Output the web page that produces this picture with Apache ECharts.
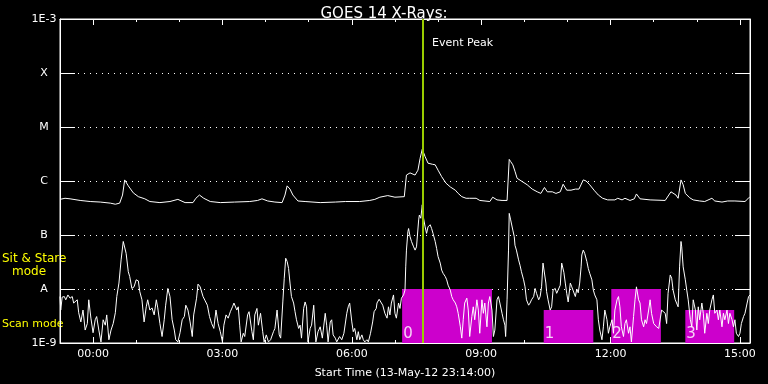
<!DOCTYPE html>
<html><head><meta charset="utf-8">
<script src="https://cdn.jsdelivr.net/npm/echarts@6/dist/echarts.min.js"></script>
<style>html,body{margin:0;padding:0;background:#000}#c{width:768px;height:384px}</style>
</head><body><div id="c"></div>
<script>
// x values: minutes relative to 00:00 on 14-May-12 (start 23:14 on 13-May = -46)
const xMin = -46, xMax = 914;
const titleText = 'GOES 14 X-Rays:';
const xName = 'Start Time (13-May-12 23:14:00)';
const labelMinutes = [0, 180, 360, 540, 720, 900];
const hourMinutes = [0,60,120,180,240,300,360,420,480,540,600,660,720,780,840,900];
// y values: log10 of flux (W/m^2)
const levelValues = [-9, -8, -7, -6, -5, -4, -3];
const levelLabels = ['1E-9', 'A', 'B', 'C', 'M', 'X', '1E-3'];
const eventPeakMinute = 458;
// Long channel (1-8 A), [minute, log10 flux]
const longChannel = [[-46,-6.34],[-39,-6.32],[-32,-6.33],[-18,-6.36],[-4,-6.38],[10,-6.39],[24,-6.41],[31,-6.43],[37,-6.41],[41,-6.26],[44,-5.98],[49,-6.09],[56,-6.22],[63,-6.29],[72,-6.33],[79,-6.38],[93,-6.40],[107,-6.38],[118,-6.34],[128,-6.40],[139,-6.40],[143,-6.32],[148,-6.26],[154,-6.32],[163,-6.38],[177,-6.40],[197,-6.39],[218,-6.38],[229,-6.36],[235,-6.33],[243,-6.37],[253,-6.39],[263,-6.40],[267,-6.26],[270,-6.09],[274,-6.15],[278,-6.26],[285,-6.37],[295,-6.38],[316,-6.40],[337,-6.39],[351,-6.38],[371,-6.38],[385,-6.36],[392,-6.34],[399,-6.30],[410,-6.27],[420,-6.30],[433,-6.29],[436,-5.89],[441,-5.85],[448,-5.89],[452,-5.80],[455,-5.58],[458,-5.41],[462,-5.55],[466,-5.67],[472,-5.69],[476,-5.70],[480,-5.80],[485,-5.92],[491,-6.04],[497,-6.11],[504,-6.17],[508,-6.23],[513,-6.29],[519,-6.32],[524,-6.32],[533,-6.32],[538,-6.36],[552,-6.38],[556,-6.30],[562,-6.35],[569,-6.36],[576,-6.36],[579,-5.60],[581,-5.64],[584,-5.70],[587,-5.82],[590,-5.95],[597,-6.01],[604,-6.07],[611,-6.15],[618,-6.20],[623,-6.23],[628,-6.12],[632,-6.20],[639,-6.20],[644,-6.23],[650,-6.20],[654,-6.06],[659,-6.17],[665,-6.17],[671,-6.15],[676,-6.15],[682,-5.98],[686,-6.00],[691,-6.07],[697,-6.17],[703,-6.26],[709,-6.32],[716,-6.35],[726,-6.35],[730,-6.32],[736,-6.35],[740,-6.32],[747,-6.36],[753,-6.33],[756,-6.24],[761,-6.33],[775,-6.35],[796,-6.36],[804,-6.20],[811,-6.26],[814,-6.32],[818,-5.98],[821,-6.07],[824,-6.23],[830,-6.31],[835,-6.35],[844,-6.37],[851,-6.38],[861,-6.32],[865,-6.37],[875,-6.39],[883,-6.37],[893,-6.37],[907,-6.38],[911,-6.33],[914,-6.29]];
// Short channel (0.5-4 A), [minute, log10 flux]
const shortChannel = [[-46,-8.14],[-45,-8.39],[-43,-8.15],[-40,-8.14],[-38,-8.20],[-35,-8.11],[-32,-8.17],[-29,-8.14],[-27,-8.26],[-22,-8.20],[-20,-8.44],[-17,-8.61],[-14,-8.39],[-11,-8.76],[-8,-8.64],[-6,-8.20],[-3,-8.54],[0,-8.81],[3,-8.57],[5,-8.51],[8,-8.76],[11,-8.98],[14,-8.57],[17,-8.67],[19,-8.48],[22,-8.94],[25,-8.76],[28,-8.64],[31,-8.44],[33,-8.14],[36,-7.89],[39,-7.46],[42,-7.12],[44,-7.09],[46,-7.34],[49,-7.68],[51,-7.77],[54,-7.99],[57,-7.96],[60,-7.83],[63,-7.85],[65,-8.05],[68,-8.20],[71,-8.61],[74,-8.33],[76,-8.20],[79,-8.39],[82,-8.35],[85,-8.48],[88,-8.20],[90,-8.35],[93,-8.64],[96,-8.88],[99,-8.57],[101,-8.30],[104,-7.99],[107,-8.14],[110,-8.57],[113,-8.76],[115,-8.94],[118,-8.98],[121,-8.81],[124,-8.57],[127,-8.51],[129,-8.30],[132,-8.39],[135,-8.61],[138,-8.88],[140,-8.48],[144,-8.17],[146,-7.91],[149,-7.96],[153,-8.14],[156,-8.22],[159,-8.30],[162,-8.51],[165,-8.64],[168,-8.73],[171,-8.39],[174,-8.64],[177,-8.79],[180,-8.98],[182,-8.67],[185,-8.48],[188,-8.54],[191,-8.42],[194,-8.33],[196,-8.26],[200,-8.39],[202,-8.33],[204,-8.67],[206,-8.98],[209,-8.82],[211,-8.88],[215,-8.48],[217,-8.42],[221,-8.79],[223,-8.94],[225,-8.48],[228,-8.36],[230,-8.67],[233,-8.45],[236,-8.79],[238,-8.98],[241,-8.85],[244,-8.98],[247,-8.94],[251,-8.79],[253,-8.73],[256,-8.39],[259,-8.85],[261,-8.91],[264,-8.24],[266,-7.80],[268,-7.43],[270,-7.49],[272,-7.62],[274,-7.89],[276,-8.14],[279,-8.26],[281,-8.42],[283,-8.57],[286,-8.73],[288,-8.67],[290,-8.91],[293,-8.36],[295,-8.24],[297,-8.33],[299,-8.98],[302,-8.73],[304,-8.67],[307,-8.30],[310,-8.98],[313,-8.79],[316,-8.70],[319,-8.91],[323,-8.45],[325,-8.67],[327,-8.98],[330,-8.61],[332,-8.57],[334,-8.85],[337,-8.91],[339,-8.98],[343,-8.88],[346,-8.94],[349,-8.82],[353,-8.45],[355,-8.33],[357,-8.26],[360,-8.61],[362,-8.79],[364,-8.73],[367,-8.94],[369,-8.79],[371,-8.94],[374,-8.85],[376,-8.94],[378,-8.98],[381,-8.94],[383,-8.98],[386,-8.82],[389,-8.61],[391,-8.42],[394,-8.36],[395,-8.26],[398,-8.19],[400,-8.22],[403,-8.30],[406,-8.45],[409,-8.54],[411,-8.33],[413,-8.48],[415,-8.26],[418,-8.11],[420,-8.45],[422,-8.54],[425,-8.26],[427,-8.36],[429,-8.17],[432,-8.11],[434,-8.02],[435,-7.59],[436,-7.28],[438,-6.94],[439,-6.88],[441,-7.03],[443,-7.12],[446,-7.22],[448,-7.28],[450,-7.22],[453,-6.72],[454,-6.63],[456,-6.69],[458,-6.44],[459,-6.63],[462,-6.85],[464,-6.97],[466,-6.85],[469,-6.81],[471,-6.88],[473,-6.97],[476,-7.12],[478,-7.25],[480,-7.40],[483,-7.52],[485,-7.65],[487,-7.71],[490,-7.77],[492,-7.83],[494,-7.93],[497,-8.02],[499,-8.14],[501,-8.20],[504,-8.26],[506,-8.33],[508,-8.45],[511,-8.70],[513,-8.91],[515,-8.57],[517,-8.26],[520,-8.17],[522,-8.39],[524,-8.88],[527,-8.51],[529,-8.33],[531,-8.57],[534,-8.20],[536,-8.39],[538,-8.82],[541,-8.20],[543,-8.45],[545,-8.26],[548,-8.70],[550,-8.26],[552,-8.14],[555,-8.39],[557,-8.88],[559,-8.76],[562,-8.20],[564,-8.14],[566,-8.26],[569,-8.45],[571,-8.57],[573,-8.67],[574,-8.88],[576,-8.20],[578,-7.28],[579,-6.60],[581,-6.72],[582,-6.69],[584,-6.91],[586,-7.03],[587,-7.19],[589,-7.28],[592,-7.46],[594,-7.56],[596,-7.68],[599,-7.83],[601,-7.96],[603,-8.20],[606,-8.30],[608,-8.26],[610,-8.20],[613,-8.14],[615,-7.99],[617,-8.08],[620,-8.20],[622,-8.14],[624,-7.96],[626,-7.52],[628,-7.49],[630,-7.89],[631,-8.05],[633,-8.20],[636,-8.39],[638,-8.33],[640,-8.02],[643,-7.99],[645,-8.08],[647,-8.02],[650,-7.93],[652,-7.52],[653,-7.49],[655,-7.69],[657,-7.89],[659,-8.08],[661,-8.24],[664,-7.89],[666,-7.96],[668,-7.99],[671,-8.14],[673,-8.00],[675,-8.07],[677,-7.89],[679,-7.59],[680,-7.37],[682,-7.28],[684,-7.34],[687,-7.49],[689,-7.62],[691,-7.71],[694,-7.83],[696,-8.02],[698,-8.11],[701,-8.20],[703,-8.57],[705,-8.76],[708,-8.94],[710,-8.70],[712,-8.39],[715,-8.57],[717,-8.82],[719,-8.70],[722,-8.57],[724,-8.82],[726,-8.39],[729,-8.20],[731,-8.14],[733,-8.33],[735,-8.70],[738,-8.88],[740,-8.64],[742,-8.57],[745,-8.82],[747,-8.70],[749,-8.98],[752,-8.51],[754,-8.20],[756,-7.96],[759,-8.20],[761,-8.26],[763,-8.57],[766,-8.70],[768,-8.57],[770,-8.64],[773,-8.39],[775,-8.20],[777,-8.45],[780,-8.64],[782,-8.67],[784,-8.70],[787,-8.73],[789,-8.76],[791,-8.39],[793,-8.42],[796,-8.45],[798,-8.64],[800,-8.08],[803,-7.74],[805,-7.80],[807,-8.02],[810,-8.20],[812,-8.20],[814,-8.33],[816,-7.59],[818,-7.12],[819,-7.22],[821,-7.59],[824,-7.83],[826,-8.02],[828,-8.20],[831,-8.57],[833,-8.70],[835,-8.20],[838,-8.39],[840,-8.76],[842,-8.33],[844,-8.57],[847,-8.26],[849,-8.45],[851,-8.82],[854,-8.45],[856,-8.64],[858,-8.39],[861,-8.20],[863,-8.11],[865,-8.45],[868,-8.39],[870,-8.57],[872,-8.39],[875,-8.70],[877,-8.45],[879,-8.57],[882,-8.39],[884,-8.64],[886,-8.45],[889,-8.57],[891,-8.70],[893,-8.57],[895,-8.82],[898,-8.88],[900,-8.82],[902,-8.64],[905,-8.51],[907,-8.45],[910,-8.26],[912,-8.14],[914,-8.11]];
// Instrument mode blocks
const blockStart = [430, 627, 721, 824];
const blockEnd = [555, 696, 790, 892];
const blockTop = [-8, -8.39, -8, -8.39];
const blockNames = ['0', '1', '2', '3'];

const FONT = 'DejaVu Sans';
function hhmm(m) {
  const h = Math.floor(m / 60), mm = m - h * 60;
  return String(h).padStart(2, '0') + ':' + String(mm).padStart(2, '0');
}
const chart = echarts.init(document.getElementById('c'), null, {renderer: 'canvas'});
const baseX = {type: 'value', min: xMin, max: xMax, splitLine: {show: false}};
const areas = blockStart.map((s, i) => [
  {xAxis: s, yAxis: -9, name: blockNames[i]},
  {xAxis: blockEnd[i], yAxis: blockTop[i]}
]);
chart.setOption({
  backgroundColor: '#000',
  animation: false,
  title: {text: titleText, left: 'center', top: 2, textStyle: {color: '#fff', fontFamily: FONT, fontSize: 15, fontWeight: 'normal'}},
  grid: {left: 60, right: 18, top: 19, bottom: 41, show: true, borderColor: '#fff', borderWidth: 1, backgroundColor: 'transparent'},
  xAxis: [
    Object.assign({}, baseX, {position: 'bottom',
      name: xName, nameLocation: 'middle', nameGap: 25,
      nameTextStyle: {color: '#fff', fontFamily: FONT, fontSize: 11},
      axisLine: {show: true, onZero: false, lineStyle: {color: '#fff'}},
      axisTick: {show: true, inside: true, length: 6, customValues: labelMinutes, lineStyle: {color: '#fff'}},
      axisLabel: {show: true, color: '#fff', fontFamily: FONT, fontSize: 11, margin: 6, customValues: labelMinutes, formatter: v => hhmm(v)}}),
    Object.assign({}, baseX, {position: 'top',
      axisLine: {show: true, onZero: false, lineStyle: {color: '#fff'}},
      axisTick: {show: true, inside: true, length: 6, customValues: labelMinutes, lineStyle: {color: '#fff'}},
      axisLabel: {show: false}}),
    Object.assign({}, baseX, {position: 'bottom',
      axisLine: {show: false, onZero: false},
      axisTick: {show: true, inside: true, length: 3, customValues: hourMinutes, lineStyle: {color: '#fff'}},
      axisLabel: {show: false}}),
    Object.assign({}, baseX, {position: 'top',
      axisLine: {show: false, onZero: false},
      axisTick: {show: true, inside: true, length: 3, customValues: hourMinutes, lineStyle: {color: '#fff'}},
      axisLabel: {show: false}})
  ],
  yAxis: [
    {type: 'value', min: -9, max: -3, interval: 1, position: 'left',
      axisLine: {show: true, onZero: false, lineStyle: {color: '#fff'}},
      axisTick: {show: true, inside: true, length: 15, lineStyle: {color: '#fff'}},
      axisLabel: {color: '#fff', fontFamily: FONT, fontSize: 11, margin: 16, align: 'center',
        formatter: v => levelLabels[levelValues.indexOf(Math.round(v))]},
      splitLine: {show: true, lineStyle: {color: '#fff', type: [1, 5], width: 1}}},
    {type: 'value', min: -9, max: -3, interval: 1, position: 'right',
      axisLine: {show: true, onZero: false, lineStyle: {color: '#fff'}},
      axisTick: {show: true, inside: true, length: 15, lineStyle: {color: '#fff'}},
      axisLabel: {show: false}, splitLine: {show: false}}
  ],
  series: [
    {type: 'line', data: [], z: 1, silent: true,
      markArea: {silent: true, itemStyle: {color: '#cc00cc', opacity: 1},
        label: {show: true, position: 'insideBottomLeft', distance: 1, color: '#f6d2f6', fontFamily: FONT, fontSize: 15, formatter: '{b}'},
        data: areas}},
    {type: 'line', name: 'long', data: longChannel, z: 3, showSymbol: false, symbol: 'none',
      lineStyle: {color: '#fff', width: 1}, itemStyle: {color: '#fff'}, clip: true},
    {type: 'line', name: 'short', data: shortChannel, z: 3, showSymbol: false, symbol: 'none',
      lineStyle: {color: '#fff', width: 1}, itemStyle: {color: '#fff'}, clip: true},
    {type: 'line', data: [], z: 5, silent: true,
      markLine: {silent: true, symbol: ['none', 'none'], label: {show: false},
        lineStyle: {color: '#99cc00', width: 2, type: 'solid'},
        data: [{xAxis: eventPeakMinute}]}}
  ],
  graphic: [
    {type: 'text', x: 432, y: 43, style: {text: 'Event Peak', fill: '#fff', font: '11px "DejaVu Sans"', verticalAlign: 'middle'}},
    {type: 'text', x: 2, y: 259, style: {text: 'Sit & Stare', fill: '#ffff00', font: '12px "DejaVu Sans"', verticalAlign: 'middle'}},
    {type: 'text', x: 12, y: 272, style: {text: 'mode', fill: '#ffff00', font: '12px "DejaVu Sans"', verticalAlign: 'middle'}},
    {type: 'text', x: 2, y: 324, style: {text: 'Scan mode', fill: '#ffff00', font: '11px "DejaVu Sans"', verticalAlign: 'middle'}}
  ]
});
</script></body></html>
